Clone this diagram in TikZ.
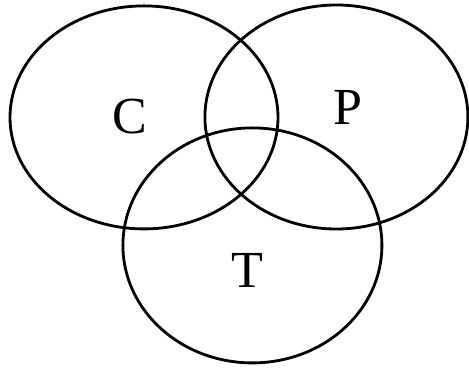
\documentclass[tikz,border=0pt]{standalone}
\usepackage{fontspec}
\setmainfont{Liberation Serif}
\usetikzlibrary{positioning,shapes.geometric}

\begin{document}
\begin{tikzpicture}[
    set/.style={ellipse,draw,line width=2pt,inner sep=0pt},
    lab/.style={font=\fontsize{37}{42}\selectfont}]

\useasboundingbox (0,0) rectangle (11.725,9.175);

\node[set,minimum width=6.7cm,minimum height=5.575cm] (c) at (3.6,6.24) {};
\node[set,minimum width=6.575cm,minimum height=5.6cm] (p) at (8.41,6.25) {};
\node[set,minimum width=6.475cm,minimum height=5.875cm] (t) at (6.31,3.04) {};

\node[lab] (cl) at (3.25,6.25) {C};
\node[lab] (pl) at (8.7,6.5) {P};
\node[lab] (tl) at (6.175,2.425) {T};

\end{tikzpicture}
\end{document}
